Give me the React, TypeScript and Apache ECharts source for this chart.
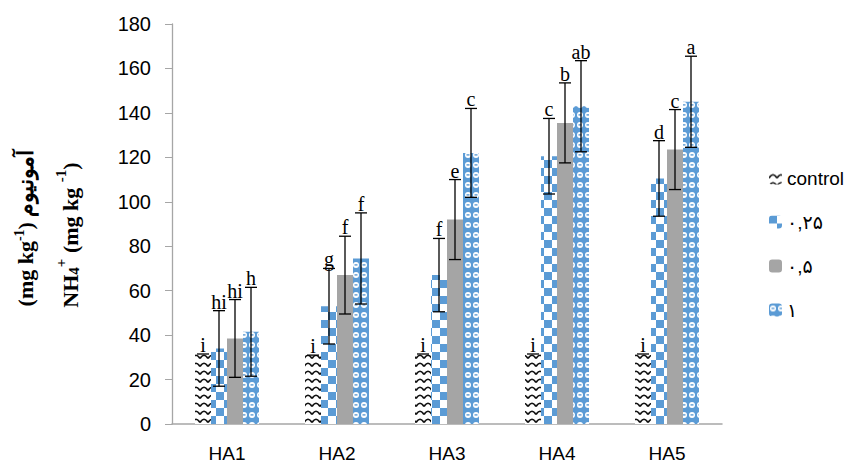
import React, { useEffect, useRef } from "react";
import * as echarts from "echarts";

const categories = ["HA1", "HA2", "HA3", "HA4", "HA5"];
const seriesNames = ["control", "۰,۲۵", "۰,۵", "۱"];
const controlValues = [31.5, 31, 31.5, 31.5, 31.5];
const controlErr = [0, 0, 0, 0, 0];
const controlLetters = ["i", "i", "i", "i", "i"];
const t025Values = [34, 53, 67, 120.5, 110.5];
const t025Err = [17, 17, 16.5, 17, 17];
const t025Letters = ["hi", "g", "f", "c", "d"];
const t05Values = [38.5, 67, 92, 135.5, 123.5];
const t05Err = [17.5, 17.5, 18, 18, 18];
const t05Letters = ["hi", "f", "e", "b", "c"];
const t1Values = [41.5, 74.5, 122, 143, 145];
const t1Err = [20, 20.5, 20, 20.5, 20.5];
const t1Letters = ["h", "f", "c", "ab", "a"];
const yTicks = { min: 0, max: 180, interval: 20 };

const BAR_W = 16;
const BLUE = "#5B9BD5";

function makeTile(w: number, h: number, draw: (ctx: CanvasRenderingContext2D) => void) {
  const c = document.createElement("canvas");
  c.width = w;
  c.height = h;
  const ctx = c.getContext("2d") as CanvasRenderingContext2D;
  draw(ctx);
  return { image: c, repeat: "repeat", imageWidth: w, imageHeight: h } as any;
}

export default function App() {
  const ref = useRef<HTMLDivElement>(null);
  useEffect(() => {
    if (!ref.current) return;
    const chart = echarts.init(ref.current, null, { renderer: "svg" });

    const zig = makeTile(8, 8, (ctx) => {
      ctx.fillStyle = "#fff";
      ctx.fillRect(0, 0, 8, 8);
      ctx.strokeStyle = "#111";
      ctx.lineWidth = 1.7;
      ctx.beginPath();
      ctx.moveTo(0, 6.5);
      ctx.quadraticCurveTo(4, 0, 8, 6.5);
      ctx.stroke();
    });
    const checker = makeTile(16, 16, (ctx) => {
      ctx.fillStyle = "#fff";
      ctx.fillRect(0, 0, 16, 16);
      ctx.fillStyle = BLUE;
      ctx.fillRect(0, 0, 8, 8);
      ctx.fillRect(8, 8, 8, 8);
    });
    const bubbles = makeTile(8, 10, (ctx) => {
      ctx.fillStyle = BLUE;
      ctx.fillRect(0, 0, 8, 10);
      ctx.fillStyle = "#fff";
      ctx.beginPath();
      ctx.ellipse(4, 5, 3, 3, 0, 0, Math.PI * 2);
      ctx.fill();
      ctx.fillStyle = BLUE;
      ctx.fillRect(2.5, 4.2, 3, 1.4);
    });
    const grey = "#A5A5A5";

    const colors = [zig, checker, grey, bubbles];
    const valueSets = [controlValues, t025Values, t05Values, t1Values];
    const errSets = [controlErr, t025Err, t05Err, t1Err];
    const letterSets = [controlLetters, t025Letters, t05Letters, t1Letters];

    const barSeries = seriesNames.map((name, i) => ({
      name,
      type: "bar",
      barWidth: BAR_W,
      barGap: "0%",
      data: valueSets[i],
      itemStyle: { color: colors[i] },
      z: 2,
    }));

    const errSeries = seriesNames.map((name, i) => ({
      name: name + "_err",
      type: "custom",
      z: 5,
      data: categories.map((_, k) => [k, valueSets[i][k], errSets[i][k]]),
      renderItem: (params: any, api: any) => {
        const idx = api.value(0);
        const mean = api.value(1);
        const err = api.value(2);
        const letter = letterSets[i][params.dataIndex];
        const x = api.coord([idx, 0])[0] + (i - 1.5) * BAR_W;
        const yTop = api.coord([idx, mean + err])[1];
        const yBot = api.coord([idx, mean - err])[1];
        const cap = 6;
        const stroke = { stroke: "#000", lineWidth: 1.3 };
        const children: any[] = [
          { type: "line", shape: { x1: x - cap, y1: yTop, x2: x + cap, y2: yTop }, style: stroke },
        ];
        if (err > 0) {
          children.push({ type: "line", shape: { x1: x, y1: yTop, x2: x, y2: yBot }, style: stroke });
          children.push({ type: "line", shape: { x1: x - cap, y1: yBot, x2: x + cap, y2: yBot }, style: stroke });
        }
        children.push({
          type: "text",
          style: {
            text: letter,
            x: x,
            y: yTop + 1,
            textAlign: "center",
            textVerticalAlign: "bottom",
            font: '20px "Liberation Serif"',
            fill: "#000",
          },
        });
        return { type: "group", children };
      },
    }));

    const serif = '"Liberation Serif"';
    chart.setOption({
      animation: false,
      textStyle: { fontFamily: '"Liberation Sans"' },
      grid: { left: 172, right: 132, top: 24, bottom: 39 },
      legend: {
        data: seriesNames,
        orient: "vertical",
        left: 764,
        top: 163,
        itemWidth: 13,
        itemHeight: 13,
        itemGap: 24,
        textStyle: { fontSize: 19, color: "#000", lineHeight: 20, fontFamily: '"Liberation Sans", "DejaVu Sans"' },
      },
      xAxis: {
        type: "category",
        data: categories,
        axisLine: { lineStyle: { color: "#A6A6A6", width: 1.5 } },
        axisTick: { show: false },
        axisLabel: { fontSize: 19, color: "#000", margin: 20 },
      },
      yAxis: {
        type: "value",
        min: yTicks.min,
        max: yTicks.max,
        interval: yTicks.interval,
        axisLine: { show: true, lineStyle: { color: "#A6A6A6", width: 1.3 } },
        axisTick: { show: true, length: 7, lineStyle: { color: "#A6A6A6" } },
        splitLine: { show: false },
        axisLabel: { fontSize: 20, color: "#000", margin: 21 },
      },
      graphic: [
        {
          type: "text",
          x: 24,
          y: 228,
          rotation: Math.PI / 2,
          style: {
            text: "{b|(mg kg}{s|-1}{b|) آمونیوم}",
            textAlign: "center",
            textVerticalAlign: "middle",
            rich: {
              b: { fontFamily: serif, fontWeight: "bold", fontSize: 22, lineHeight: 24, verticalAlign: "bottom" },
              s: { fontFamily: serif, fontWeight: "bold", fontSize: 14, lineHeight: 24, verticalAlign: "top" },
            },
          },
        },
        {
          type: "text",
          x: 67,
          y: 235,
          rotation: Math.PI / 2,
          style: {
            text: "{b|NH}{d|4}{s|+}{b| (mg kg }{s|-1}{b|)}",
            textAlign: "center",
            textVerticalAlign: "middle",
            rich: {
              b: { fontFamily: serif, fontWeight: "bold", fontSize: 22, lineHeight: 24, verticalAlign: "bottom" },
              s: { fontFamily: serif, fontWeight: "bold", fontSize: 15, lineHeight: 24, verticalAlign: "top" },
              d: { fontFamily: serif, fontWeight: "bold", fontSize: 15, lineHeight: 28, verticalAlign: "bottom" },
            },
          },
        },
      ],
      series: [...barSeries, ...errSeries],
    } as any);
    return () => chart.dispose();
  }, []);
  return <div ref={ref} style={{ position: "absolute", left: 0, top: 0, width: 854, height: 463 }} />;
}
